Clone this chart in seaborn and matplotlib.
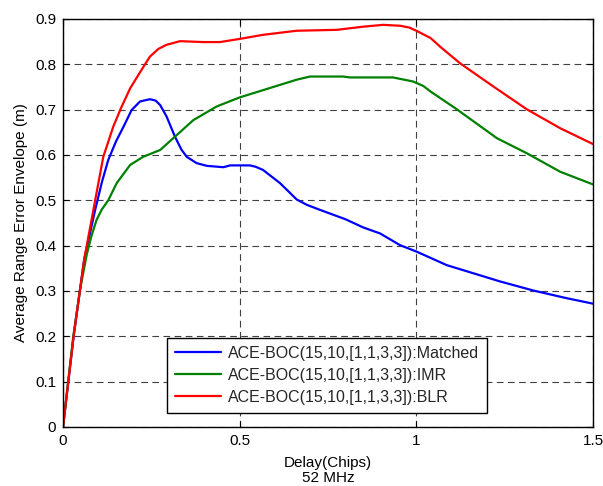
import numpy as np
import pandas as pd
import matplotlib
matplotlib.use("Agg")
import matplotlib.pyplot as plt
import seaborn as sns

# Data
matched_x = [0.0, 0.03, 0.06, 0.091, 0.11, 0.128, 0.15, 0.171, 0.194, 0.218, 0.246, 0.262,
             0.275, 0.293, 0.317, 0.335, 0.35, 0.378, 0.407, 0.454, 0.473, 0.529, 0.545,
             0.566, 0.614, 0.661, 0.69, 0.727, 0.8, 0.85, 0.897, 0.954, 1.0, 1.086, 1.237,
             1.331, 1.426, 1.5]
matched_y = [0.0, 0.20, 0.37, 0.479, 0.54, 0.589, 0.63, 0.662, 0.699, 0.718, 0.723, 0.72,
             0.71, 0.685, 0.640, 0.612, 0.596, 0.582, 0.576, 0.573, 0.577, 0.577, 0.574,
             0.567, 0.538, 0.502, 0.49, 0.479, 0.458, 0.44, 0.427, 0.401, 0.387, 0.357,
             0.321, 0.301, 0.284, 0.272]

imr_x = [0.0, 0.029, 0.048, 0.067, 0.08, 0.095, 0.11, 0.128, 0.152, 0.19, 0.227, 0.275,
         0.312, 0.369, 0.435, 0.5, 0.558, 0.661, 0.699, 0.793, 0.812, 0.934, 0.991, 1.02,
         1.04, 1.114, 1.228, 1.312, 1.407, 1.5]
imr_y = [0.0, 0.20, 0.302, 0.38, 0.42, 0.457, 0.48, 0.50, 0.538, 0.578, 0.596, 0.611,
         0.637, 0.677, 0.707, 0.727, 0.741, 0.766, 0.773, 0.773, 0.771, 0.771, 0.762, 0.752,
         0.74, 0.701, 0.637, 0.604, 0.563, 0.535]

blr_x = [0.0, 0.03, 0.06, 0.086, 0.114, 0.142, 0.165, 0.19, 0.22, 0.246, 0.27, 0.293, 0.331,
         0.397, 0.444, 0.5, 0.566, 0.661, 0.775, 0.85, 0.906, 0.954, 0.98, 1.0, 1.04, 1.067,
         1.124, 1.218, 1.312, 1.407, 1.5]
blr_y = [0.0, 0.20, 0.37, 0.479, 0.596, 0.662, 0.705, 0.747, 0.785, 0.817, 0.834, 0.843,
         0.851, 0.849, 0.849, 0.856, 0.865, 0.874, 0.876, 0.883, 0.887, 0.885, 0.881, 0.874,
         0.858, 0.839, 0.802, 0.751, 0.701, 0.659, 0.624]

labels = ["ACE-BOC(15,10,[1,1,3,3]):Matched",
          "ACE-BOC(15,10,[1,1,3,3]):IMR",
          "ACE-BOC(15,10,[1,1,3,3]):BLR"]
colors = ["#0000ff", "#008000", "#ff0000"]

sns.set_theme(style="white")
plt.rcParams['font.family'] = ['Liberation Sans', 'DejaVu Sans']

fig = plt.figure(figsize=(6.03, 4.86), dpi=100)
ax = fig.add_axes([0.1045, 0.1214, 0.879, 0.8396])

for xs, ys, lab, c in zip([matched_x, imr_x, blr_x], [matched_y, imr_y, blr_y], labels, colors):
    df = pd.DataFrame({"x": xs, "y": ys})
    sns.lineplot(data=df, x="x", y="y", ax=ax, color=c, linewidth=1.6, label=lab,
                 sort=False, estimator=None)

ax.set_xlim(0, 1.5)
ax.set_ylim(0, 0.9)
ax.set_xticks([0, 0.5, 1, 1.5])
ax.set_xticklabels(["0", "0.5", "1", "1.5"])
ax.set_yticks(np.arange(0, 0.91, 0.1))
ax.set_yticklabels(["0", "0.1", "0.2", "0.3", "0.4", "0.5", "0.6", "0.7", "0.8", "0.9"])
ax.grid(True, color="#404040", linestyle=(0, (6, 4)), linewidth=0.8)
for s in ax.spines.values():
    s.set_color("black")
    s.set_linewidth(1.0)
ax.tick_params(direction="in", length=4, width=0.8, colors="black", labelsize=11,
               top=True, right=True, bottom=True, left=True, pad=5)
ax.set_xlabel("Delay(Chips)\n52 MHz", fontsize=11, color="black", labelpad=6, linespacing=1.1)
ax.set_ylabel("Average Range Error Envelope (m)", fontsize=11, color="black", labelpad=5)

leg = ax.legend(loc="upper left", bbox_to_anchor=(0.196, 0.218),
                fontsize=11.5, frameon=True, fancybox=False,
                edgecolor="black", framealpha=1, borderpad=0.5, labelspacing=0.44,
                handlelength=2.9, handletextpad=0.4, borderaxespad=0)
leg.get_frame().set_linewidth(1.0)

fig.savefig("out.png", dpi=100)
